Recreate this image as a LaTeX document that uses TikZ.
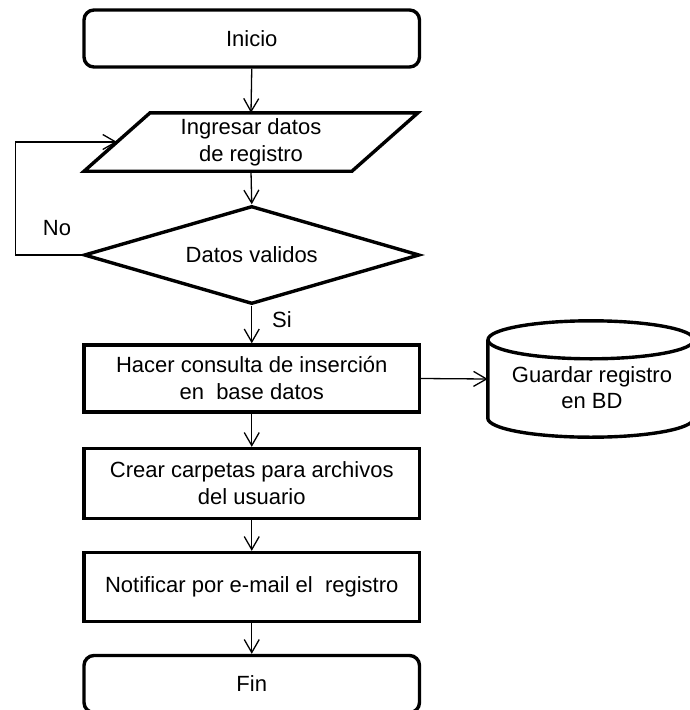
\documentclass[tikz,border=0pt]{standalone}
\usepackage{fontspec}
\setmainfont{Liberation Sans}
\usetikzlibrary{arrows.meta,shapes.geometric}

\begin{document}
\begin{tikzpicture}[x=1pt,y=-1pt,
  every node/.style={font=\fontsize{22}{27}\selectfont, align=center, inner sep=0pt},
  border/.style={draw, line width=3.4pt},
  terminal/.style={border, rounded corners=10pt, minimum width=335.5pt, minimum height=57pt},
  process/.style={border, minimum width=335.5pt},
  decision/.style={border, diamond, aspect=3.4, minimum width=335.5pt, minimum height=98pt},
  flow/.style={line width=1.3pt, -{Straight Barb[length=13pt,width=15pt,line width=1.3pt]}}
]
\useasboundingbox (0,0) rectangle (689,710);

% main column
\node[terminal] (ini) at (251.75,38.5) {Inicio};
\node[minimum width=267.5pt, minimum height=58pt] (ing) at (251,142) {Ingresar datos\\de registro};
\draw[border] ([xshift=33pt]ing.north west) -- ([xshift=33pt]ing.north east)
  -- ([xshift=-33pt]ing.south east) -- ([xshift=-33pt]ing.south west) -- cycle;
\node[decision] (val) at (251.75,255) {Datos validos};
\node[process, minimum height=67pt] (ins) at (251.75,378.5) {Hacer consulta de inserción\\en\ \ base datos};
\node[process, minimum height=70pt] (dir) at (251.75,483.5) {Crear carpetas para archivos\\del usuario};
\node[process, minimum height=69pt] (mail) at (251.75,587) {Notificar por e-mail el\ \ registro};
\node[terminal] (fin) at (251.75,684) {Fin};

% database cylinder
\node[minimum width=206pt, minimum height=78pt] (db) at (591,379) {};
\draw[border] (db.north) ellipse[x radius=103pt, y radius=19pt];
\draw[border] (db.north west) -- (db.south west)
  arc[start angle=180, end angle=360, x radius=103pt, y radius=19pt] -- (db.north east);
\node[font=\fontsize{22}{26}\selectfont] (dbtxt) at (592,388) {Guardar registro\\en BD};

% branch labels
\node (no) at (57,228.5) {No};
\node (si) at (282,320) {Si};

% connectors
\coordinate (lp) at (15.5,142);
\draw[flow] (ini.south) -- (ing.north);
\draw[flow] (ing.south) -- (val.north);
\draw[flow] (val.west) -| (lp) -- (ing.west);
\draw[flow] (val.south) -- (ins.north);
\draw[flow] (ins.east) -- (db.west);
\draw[flow] (ins.south) -- (dir.north);
\draw[flow] (dir.south) -- (mail.north);
\draw[flow] (mail.south) -- (fin.north);
\end{tikzpicture}
\end{document}
